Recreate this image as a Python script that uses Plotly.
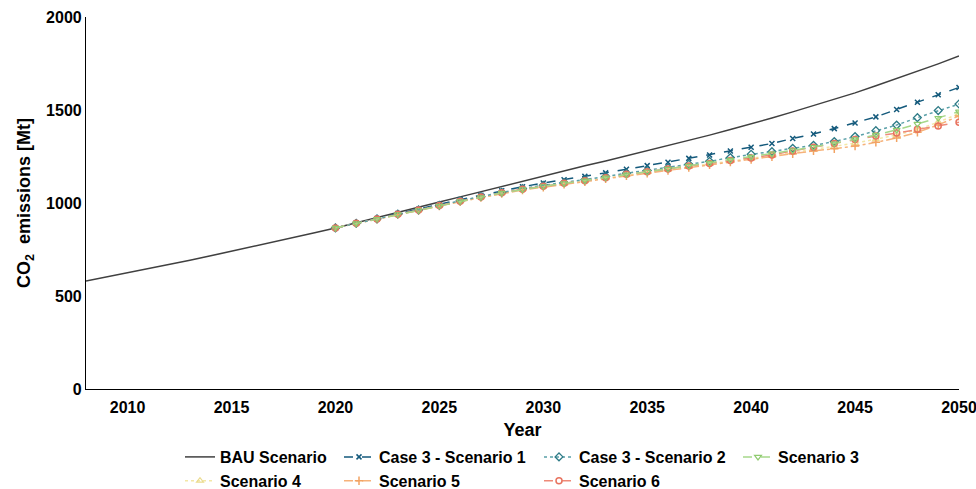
import plotly.graph_objects as go

# ---------------- data ----------------
bau_years = list(range(2008, 2051))
bau_values = [580, 602, 624, 646, 669, 692, 716, 740, 764, 789, 814, 840,
              866, 893, 920, 948, 976, 1005, 1033, 1061, 1089, 1118, 1148,
              1174, 1200, 1226, 1253, 1280, 1308, 1336, 1365, 1395, 1425,
              1457, 1490, 1523, 1557, 1592, 1630, 1668, 1707, 1748, 1790]

years = list(range(2020, 2051))
case3_s1 = [866, 892, 916, 943, 966, 992, 1018, 1042, 1066, 1087, 1108,
            1125, 1143, 1162, 1181, 1201, 1219, 1240, 1258, 1280, 1300,
            1320, 1347, 1371, 1400, 1430, 1463, 1503, 1542, 1582, 1621]
case3_s2 = [866, 891, 915, 941, 963, 988, 1012, 1035, 1058, 1078, 1095,
            1110, 1125, 1142, 1160, 1175, 1190, 1208, 1224, 1244, 1262,
            1276, 1294, 1310, 1330, 1357, 1389, 1419, 1459, 1497, 1532]
scen3 = [866, 890, 914, 939, 961, 985, 1009, 1031, 1054, 1073, 1090,
         1105, 1120, 1136, 1153, 1168, 1184, 1200, 1216, 1232, 1248,
         1265, 1283, 1301, 1320, 1342, 1366, 1393, 1425, 1457, 1491]
scen4 = [866, 890, 914, 939, 961, 985, 1008, 1030, 1053, 1072, 1088,
         1103, 1117, 1133, 1150, 1164, 1179, 1195, 1210, 1225, 1239,
         1254, 1271, 1288, 1304, 1322, 1343, 1366, 1395, 1435, 1480]
scen5 = [866, 890, 913, 938, 960, 984, 1007, 1029, 1051, 1070, 1085,
         1100, 1114, 1130, 1146, 1160, 1175, 1190, 1205, 1220, 1234,
         1249, 1265, 1280, 1292, 1306, 1326, 1350, 1380, 1420, 1468]
scen6 = [866, 891, 914, 940, 962, 986, 1010, 1032, 1055, 1074, 1090,
         1106, 1120, 1136, 1154, 1168, 1183, 1199, 1213, 1228, 1242,
         1258, 1280, 1300, 1320, 1342, 1360, 1376, 1396, 1414, 1434]

x_ticks = [2010, 2015, 2020, 2025, 2030, 2035, 2040, 2045, 2050]
y_ticks = [0, 500, 1000, 1500, 2000]

FONT = "Liberation Sans, Arial, Helvetica, sans-serif"

fig = go.Figure()

fig.add_trace(go.Scatter(x=bau_years, y=bau_values, mode="lines",
                         name="BAU Scenario",
                         line=dict(color="#404040", width=1.5),
                         legend="legend"))

fig.add_trace(go.Scatter(x=years, y=scen4, mode="lines+markers", name="Scenario 4",
                         line=dict(color="#f3e7a6", width=1.5, dash="dot"),
                         marker=dict(symbol="triangle-up-open", size=6, color="#eadb8e",
                                     line=dict(width=1.2)),
                         legend="legend"))

fig.add_trace(go.Scatter(x=years, y=case3_s1, mode="lines+markers",
                         name="Case 3 - Scenario 1",
                         line=dict(color="#145a7c", width=1.5, dash="dash"),
                         marker=dict(symbol="x-thin", size=5, color="#145a7c",
                                     line=dict(width=1.5, color="#145a7c")),
                         legend="legend2"))

fig.add_trace(go.Scatter(x=years, y=scen5, mode="lines+markers", name="Scenario 5",
                         line=dict(color="#f6b27a", width=1.5, dash="dashdot"),
                         marker=dict(symbol="cross-thin", size=6, color="#f2a363",
                                     line=dict(width=1.5, color="#f2a363")),
                         legend="legend2"))

fig.add_trace(go.Scatter(x=years, y=case3_s2, mode="lines+markers",
                         name="Case 3 - Scenario 2",
                         line=dict(color="#5aa0a8", width=1.5, dash="dot"),
                         marker=dict(symbol="diamond-open", size=6, color="#2c7a86",
                                     line=dict(width=1.3)),
                         legend="legend3"))

fig.add_trace(go.Scatter(x=years, y=scen6, mode="lines+markers", name="Scenario 6",
                         line=dict(color="#ee8a78", width=1.5, dash="dash"),
                         marker=dict(symbol="circle-open", size=6, color="#e8735f",
                                     line=dict(width=1.5)),
                         legend="legend3"))

fig.add_trace(go.Scatter(x=years, y=scen3, mode="lines+markers", name="Scenario 3",
                         line=dict(color="#a7d88a", width=1.5, dash="dash"),
                         marker=dict(symbol="triangle-down-open", size=6, color="#8fcb6f",
                                     line=dict(width=1.2)),
                         legend="legend4"))

PL, PW, PB, PH = 86, 873, 389, 372


def px_x(p):
    return (p - PL) / PW


def px_y(p):
    return (PB - p) / PH


legend_common = dict(orientation="v", yanchor="top", xanchor="left",
                     bgcolor="rgba(0,0,0,0)", borderwidth=0,
                     font=dict(family=FONT, size=16, color="#000", weight="bold"),
                     tracegroupgap=0, itemwidth=30)
leg_y = px_y(440)
fig.update_layout(
    width=976, height=489,
    margin=dict(l=86, r=17, t=17, b=100, autoexpand=False),
    paper_bgcolor="white", plot_bgcolor="white",
    font=dict(family=FONT, size=16, color="#000", weight="bold"),
    showlegend=True,
    legend=dict(x=px_x(180), y=leg_y, **legend_common),
    legend2=dict(x=px_x(339), y=leg_y, **legend_common),
    legend3=dict(x=px_x(539), y=leg_y, **legend_common),
    legend4=dict(x=px_x(738), y=leg_y, **legend_common),
    xaxis=dict(range=[2008, 2050], tickvals=x_ticks, ticktext=[str(v) for v in x_ticks],
               showgrid=False, zeroline=False, showline=True, linecolor="#000",
               linewidth=1.2, ticks="", mirror=False, automargin=False,
               ticklabelstandoff=4, ticklabeloverflow="allow",
               tickfont=dict(family=FONT, size=16, color="#000", weight="bold"),
               title=dict(text="Year", standoff=8,
                          font=dict(family=FONT, size=18, color="#000", weight="bold"))),
    yaxis=dict(range=[0, 2000], tickvals=y_ticks, ticktext=[str(v) for v in y_ticks],
               showgrid=False, zeroline=False, showline=True, linecolor="#000",
               linewidth=1.2, ticks="", automargin=False,
               tickfont=dict(family=FONT, size=16, color="#000", weight="bold"),
               title=dict(text="CO<sub>2</sub>  emissions [Mt]", standoff=10,
                          font=dict(family=FONT, size=18, color="#000", weight="bold"))),
)

fig.write_html("out.html",
               config={"displayModeBar": False},
               post_script="document.body.style.margin='0px';"
                           "document.body.style.overflow='hidden';")
